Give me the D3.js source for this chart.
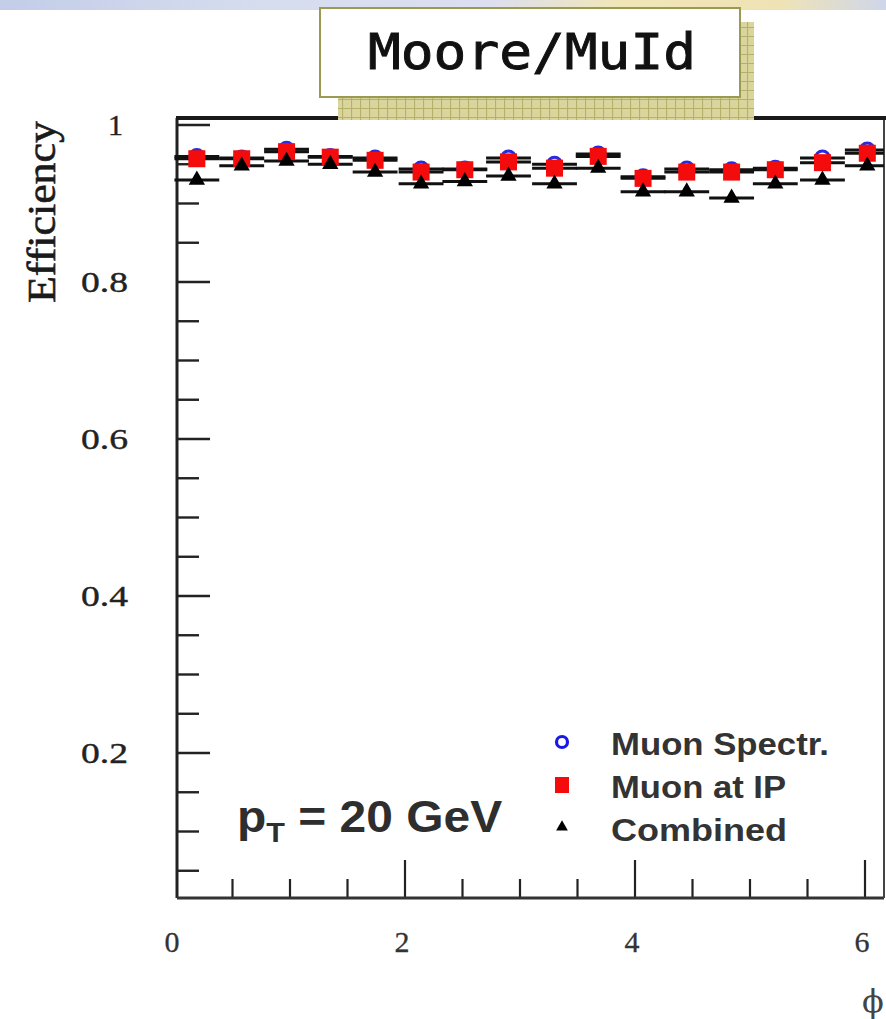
<!DOCTYPE html>
<html>
<head>
<meta charset="utf-8">
<script src="https://cdn.jsdelivr.net/npm/d3@7"></script>
<style>
  html, body { margin: 0; padding: 0; background: #ffffff; }
  svg { display: block; }
</style>
</head>
<body>
<svg id="chart" width="886" height="1019"></svg>
<script>
// Efficiency versus phi, 16 phi bins, three reconstruction stages
const phiCenters = [0.19, 0.58, 0.97, 1.35, 1.74, 2.14, 2.52, 2.90, 3.30, 3.68, 4.07, 4.45, 4.84, 5.22, 5.63, 6.02];
const binHalfWidth = 0.195;
const muonSpectr = [0.960, 0.958, 0.969, 0.960, 0.958, 0.944, 0.944, 0.958, 0.950, 0.963, 0.934, 0.944, 0.943, 0.945, 0.958, 0.968];
const muonAtIP   = [0.957, 0.957, 0.966, 0.959, 0.955, 0.940, 0.943, 0.953, 0.945, 0.960, 0.932, 0.940, 0.940, 0.943, 0.952, 0.964];
const combined   = [0.930, 0.948, 0.954, 0.950, 0.940, 0.925, 0.928, 0.935, 0.925, 0.945, 0.915, 0.915, 0.907, 0.925, 0.930, 0.948];

const seriesNames = ["Muon Spectr.", "Muon at IP", "Combined"];
const yTickLabels = ["0.2", "0.4", "0.6", "0.8", "1"];
const xTickLabels = ["0", "2", "4", "6"];
const xAxisTitle = "\u03D5";
const yAxisTitle = "Efficiency";
const panelTitle = "Moore/MuId";
const ptLabel = { main: "p", sub: "T", rest: " = 20 GeV" };

const svg = d3.select("#chart");
const defs = svg.append("defs");

// slide background strip at the very top
const grad = defs.append("linearGradient").attr("id", "band").attr("x1", 0).attr("x2", 1);
[[0, "#c3cde8"], [0.3, "#d6ddef"], [0.55, "#dcdff0"], [0.7, "#f1e6b8"], [0.88, "#efe3b6"], [1, "#cfd6ea"]]
  .forEach(([o, c]) => grad.append("stop").attr("offset", o).attr("stop-color", c));
svg.append("rect").attr("x", 0).attr("y", 0).attr("width", 886).attr("height", 10).attr("fill", "url(#band)");

// hatched shadow pattern of the title box
const pat = defs.append("pattern").attr("id", "hatch").attr("patternUnits", "userSpaceOnUse")
  .attr("width", 9).attr("height", 9);
pat.append("rect").attr("width", 9).attr("height", 9).attr("fill", "#d9d59c");
pat.append("path").attr("d", "M0,0.5H9M0.5,0V9").attr("stroke", "#b5b06a").attr("stroke-width", 1.2);

// plot geometry
const frameL = 177, frameR = 884, frameT = 118, frameB = 898;
const x = d3.scaleLinear().domain([0, (frameR - 175) / 115]).range([175, frameR]);
const y = d3.scaleLinear().domain([0.0153, 1.0089]).range([frameB, frameT]);

const g = svg.append("g");

// x ticks: minor every 0.5, major every 2
const xTicks = d3.range(0.5, 6.01, 0.5);
g.selectAll(".xt").data(xTicks).enter().append("line")
  .attr("x1", d => x(d)).attr("x2", d => x(d))
  .attr("y1", frameB).attr("y2", d => (Math.abs(d % 2) < 1e-6) ? frameB - 38 : frameB - 19)
  .attr("stroke", "#222").attr("stroke-width", 2.2);

// y ticks: minor every 0.05, major every 0.2
const yTicks = d3.range(0.05, 1.001, 0.05);
g.selectAll(".yt").data(yTicks).enter().append("line")
  .attr("x1", frameL).attr("x2", d => (Math.abs((d * 5) - Math.round(d * 5)) < 1e-6) ? frameL + 33 : frameL + 22)
  .attr("y1", d => y(d)).attr("y2", d => y(d))
  .attr("stroke", "#222").attr("stroke-width", 2.4);

// frame
g.append("line").attr("x1", frameL).attr("x2", frameL).attr("y1", frameT).attr("y2", frameB).attr("stroke", "#222").attr("stroke-width", 3);
g.append("line").attr("x1", frameL).attr("x2", frameR).attr("y1", frameB).attr("y2", frameB).attr("stroke", "#333").attr("stroke-width", 3);
g.append("line").attr("x1", frameR).attr("x2", frameR).attr("y1", frameT).attr("y2", frameB).attr("stroke", "#444").attr("stroke-width", 2);
g.append("line").attr("x1", frameL - 1).attr("x2", frameR + 2).attr("y1", frameT).attr("y2", frameT).attr("stroke", "#1a1a1a").attr("stroke-width", 4);

// y tick labels
const yVals = [0.2, 0.4, 0.6, 0.8, 1.0];
g.selectAll(".yl").data(yVals).enter().append("text")
  .attr("x", d => d === 1 ? 123 : 128).attr("y", d => y(d) + 10)
  .attr("text-anchor", "end")
  .attr("font-family", "Liberation Serif, serif").attr("font-size", 30).attr("fill", "#222")
  .attr("stroke", "#222").attr("stroke-width", 0.4)
  .attr("textLength", (d, i) => yTickLabels[i].length > 1 ? 47 : null)
  .attr("lengthAdjust", "spacingAndGlyphs")
  .text((d, i) => yTickLabels[i]);

// x tick labels
const xVals = [0, 2, 4, 6];
g.selectAll(".xl").data(xVals).enter().append("text")
  .attr("x", d => x(d) - 3).attr("y", 952)
  .attr("text-anchor", "middle")
  .attr("font-family", "Liberation Serif, serif").attr("font-size", 30).attr("fill", "#333")
  .attr("stroke", "#333").attr("stroke-width", 0.3)
  .text((d, i) => xTickLabels[i]);

// axis titles
g.append("text").attr("transform", "translate(55,212) rotate(-90)")
  .attr("text-anchor", "middle")
  .attr("font-family", "Liberation Serif, serif").attr("font-size", 40).attr("fill", "#1a1a1a")
  .attr("stroke", "#1a1a1a").attr("stroke-width", 0.6)
  .attr("textLength", 182).attr("lengthAdjust", "spacingAndGlyphs")
  .text(yAxisTitle);
g.append("text").attr("x", 873).attr("y", 1012).attr("text-anchor", "middle")
  .attr("font-family", "DejaVu Serif, serif").attr("font-size", 32).attr("fill", "#444")
  .text(xAxisTitle);

// data rows
const rows = phiCenters.map((p, i) => ({ phi: p, s: muonSpectr[i], ip: muonAtIP[i], c: combined[i] }));

// horizontal bin-width error bars
const dataG = svg.append("g");
["s", "ip", "c"].forEach(k => {
  dataG.selectAll(".eb-" + k).data(rows).enter().append("line")
    .attr("x1", d => x(d.phi - binHalfWidth)).attr("x2", d => Math.min(x(d.phi + binHalfWidth), frameR))
    .attr("y1", d => y(d[k])).attr("y2", d => y(d[k]))
    .attr("stroke", "#111").attr("stroke-width", 3);
});

// Muon Spectr.: open blue circles
dataG.selectAll(".ms").data(rows).enter().append("circle")
  .attr("cx", d => x(d.phi)).attr("cy", d => y(d.s)).attr("r", 7)
  .attr("fill", "#ffffff").attr("stroke", "#2a2ae0").attr("stroke-width", 3);

// Muon at IP: red squares
const sq = 17;
dataG.selectAll(".ip").data(rows).enter().append("rect")
  .attr("x", d => x(d.phi) - sq / 2).attr("y", d => y(d.ip) - sq / 2)
  .attr("width", sq).attr("height", sq).attr("fill", "#f40b0b");

// Combined: black triangles
const tri = d3.symbol().type(d3.symbolTriangle).size(115);
dataG.selectAll(".cb").data(rows).enter().append("path")
  .attr("d", tri).attr("transform", d => `translate(${x(d.phi)},${y(d.c)})`)
  .attr("fill", "#000");

// legend
const legend = svg.append("g");
const legY = [744, 787, 830];
legend.append("circle").attr("cx", 562).attr("cy", legY[0] - 2).attr("r", 5.5)
  .attr("fill", "#fff").attr("stroke", "#1818e8").attr("stroke-width", 3.2);
legend.append("rect").attr("x", 555).attr("y", legY[1] - 10).attr("width", 14).attr("height", 16).attr("fill", "#f40b0b");
legend.append("path").attr("d", d3.symbol().type(d3.symbolTriangle).size(60))
  .attr("transform", `translate(562,${legY[2] - 3})`).attr("fill", "#000");
const legWidths = [218, 175, 176];
legend.selectAll(".lt").data(seriesNames).enter().append("text")
  .attr("x", 611).attr("y", (d, i) => legY[i] + 11)
  .attr("font-family", "Liberation Sans, Arial, sans-serif").attr("font-size", 31).attr("font-weight", "bold")
  .attr("fill", "#333")
  .attr("textLength", (d, i) => legWidths[i]).attr("lengthAdjust", "spacingAndGlyphs")
  .text(d => d);

// transverse momentum label
const pt = svg.append("text").attr("transform", "translate(237,832) scale(1.09,1)")
  .attr("font-family", "Liberation Sans, Arial, sans-serif").attr("font-weight", "bold")
  .attr("font-size", 44).attr("fill", "#2e2e2e");
pt.append("tspan").text(ptLabel.main);
pt.append("tspan").attr("font-size", 28).attr("dy", 10).text(ptLabel.sub);
pt.append("tspan").attr("dy", -10).text(ptLabel.rest);

// title box with hatched shadow
const tb = svg.append("g");
tb.append("rect").attr("x", 338).attr("y", 22).attr("width", 416).attr("height", 98).attr("fill", "url(#hatch)");
tb.append("rect").attr("x", 320).attr("y", 8).attr("width", 420).attr("height", 89)
  .attr("fill", "#ffffff").attr("stroke", "#9a9a52").attr("stroke-width", 2);
tb.append("text").attr("x", 532).attr("y", 69).attr("text-anchor", "middle")
  .attr("font-family", "DejaVu Sans Mono, monospace").attr("font-size", 50).attr("fill", "#111")
  .attr("stroke", "#111").attr("stroke-width", 0.9)
  .attr("textLength", 328).attr("lengthAdjust", "spacingAndGlyphs")
  .text(panelTitle);
</script>
</body>
</html>
